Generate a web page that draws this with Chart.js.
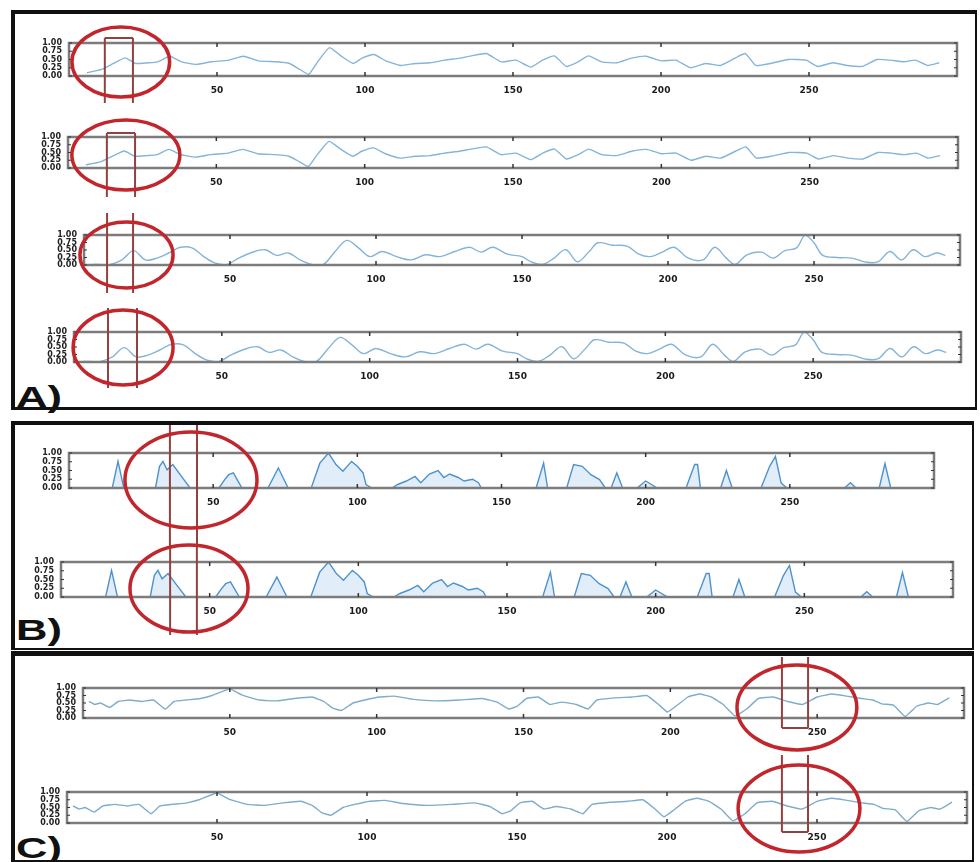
<!DOCTYPE html>
<html lang="en">
<head>
    <meta charset="UTF-8">
    <title>Signal panels A, B, C</title>
    <script src="https://cdn.jsdelivr.net/npm/chart.js"></script>
    <style>
        body {
            margin: 0;
            width: 980px;
            height: 862px;
            background: #ffffff;
            position: relative;
            overflow: hidden;
            font-family: "Liberation Sans", Arial, sans-serif;
        }
        canvas {
            position: absolute;
        }
        .panel {
            position: absolute;
            box-sizing: border-box;
            border-style: solid;
            border-color: #111;
        }
        .tag {
            position: absolute;
            left: 16px;
            font-size: 30px;
            line-height: 30px;
            font-weight: bold;
            color: #111;
            transform: scaleX(1.45);
            transform-origin: left top;
        }
    </style>
</head>
<body>

<!-- panel frames -->
<div class="panel" style="left:11px; top:10px; width:966px; height:400px; border-width:4px 2px 3px 4px;"></div>
<div class="panel" style="left:11px; top:421px; width:963px; height:229px; border-width:4px 2px 2px 4px;"></div>
<div class="panel" style="left:11px; top:651px; width:963px; height:211px; border-width:5px 2px 2px 4px;"></div>

<div class="tag" style="top:382px;">A)</div>
<div class="tag" style="top:615px;">B)</div>
<div class="tag" style="top:833px;">C)</div>

<script>
    // x tick labels shared by every strip
    const xTickLabels = [50, 100, 150, 200, 250];

    // panel A, upper pair (raw trace)
    const xA_top = [6, 11, 15, 19, 22.5, 26.5, 30, 34, 38, 43, 48, 54, 59, 64, 70, 74.5, 78, 81, 84, 88,
        92, 96, 99, 103, 107, 112, 117, 122, 127, 132, 136, 141, 146, 151, 156, 160, 164, 168, 172, 175.5,
        180, 185, 190, 195, 200, 205, 210, 215, 220, 225, 228.5, 232, 237, 243, 249, 253, 258, 263, 268, 273,
        277.5, 282, 286, 290, 294];
    const yA_top = [0.1, 0.2, 0.38, 0.55, 0.38, 0.4, 0.43, 0.6, 0.43, 0.35, 0.43, 0.48, 0.6, 0.46, 0.43, 0.38, 0.2, 0.05, 0.43, 0.86,
        0.6, 0.38, 0.54, 0.65, 0.46, 0.32, 0.38, 0.4, 0.48, 0.54, 0.61, 0.68, 0.43, 0.48, 0.27, 0.48, 0.61, 0.29, 0.43, 0.61,
        0.43, 0.4, 0.54, 0.6, 0.46, 0.48, 0.25, 0.38, 0.32, 0.54, 0.68, 0.32, 0.38, 0.5, 0.48, 0.29, 0.4, 0.32, 0.29, 0.5,
        0.48, 0.43, 0.48, 0.32, 0.4];

    // panel A, lower pair (smoothed trace)
    const xA_bot = [3, 9, 13, 17, 21, 25, 29, 33, 37, 41, 45, 49, 53, 57, 62, 66, 70, 74, 78, 82,
        86, 90, 94, 98, 102, 107, 112, 117, 122, 127, 132, 136, 140, 145, 150, 153, 157, 161, 165, 169,
        173, 176, 181, 186, 190, 194, 198, 202, 207, 212, 216, 220, 223, 227, 232, 236, 240, 244, 247, 250,
        253, 258, 263, 268, 272, 276, 280, 284, 288, 292, 295];
    const yA_bot = [0.02, 0.02, 0.17, 0.48, 0.17, 0.23, 0.4, 0.59, 0.57, 0.28, 0.06, 0.02, 0.23, 0.4, 0.51, 0.32, 0.4, 0.17, 0.02, 0.02,
        0.45, 0.82, 0.57, 0.28, 0.45, 0.28, 0.17, 0.34, 0.28, 0.45, 0.59, 0.43, 0.59, 0.36, 0.28, 0.11, 0.02, 0.23, 0.51, 0.11,
        0.45, 0.74, 0.66, 0.63, 0.36, 0.28, 0.43, 0.59, 0.23, 0.17, 0.59, 0.23, 0.02, 0.34, 0.43, 0.23, 0.48, 0.57, 1.0, 0.74,
        0.32, 0.25, 0.23, 0.09, 0.11, 0.45, 0.17, 0.51, 0.28, 0.4, 0.32];

    // panel B (spiky activity)
    const xB = [0, 15, 17, 19, 30, 31.4, 32.6, 34, 36, 39, 42, 52, 54, 55.4, 57, 59, 60, 69, 72.6, 76,
        84, 87, 90, 92.6, 95, 98, 100, 102, 103, 105, 112, 114, 117, 120, 122, 125, 128, 130, 132, 135,
        137, 140, 142, 143, 162, 164.6, 166, 172.6, 175, 178, 181, 184, 186, 188, 190, 192, 197, 200, 204, 214,
        217, 218, 219, 226, 228, 230, 240, 243, 245, 247, 249, 269, 271, 273, 281, 283, 285, 295];
    const yB = [0, 0, 0.76, 0, 0, 0.62, 0.76, 0.52, 0.67, 0.33, 0, 0, 0.24, 0.38, 0.43, 0.14, 0, 0, 0.57, 0,
        0, 0.71, 1.0, 0.67, 0.48, 0.76, 0.62, 0.43, 0.1, 0, 0, 0.1, 0.2, 0.33, 0.15, 0.4, 0.5, 0.3, 0.4, 0.3,
        0.2, 0.25, 0.15, 0, 0, 0.71, 0, 0, 0.67, 0.62, 0.38, 0.24, 0, 0, 0.43, 0, 0, 0.2, 0, 0,
        0.67, 0.67, 0, 0, 0.5, 0, 0, 0.62, 0.9, 0.14, 0, 0, 0.15, 0, 0, 0.7, 0, 0];

    // panel C
    const xC = [2, 4, 6, 9, 12, 16, 20, 24, 28, 31, 35, 40, 44, 50, 54, 60, 66, 72, 78, 82,
        85, 88, 92, 96, 101, 106, 112, 120, 128, 136, 141, 145, 148, 151, 155, 159, 163, 168, 172, 175,
        181, 187, 192, 196, 199, 202, 206, 210, 214, 218, 222, 226, 230, 235, 240, 245, 250, 255, 260, 265,
        269, 272, 276, 280, 284, 288, 291, 295];
    const yC = [0.55, 0.45, 0.5, 0.35, 0.55, 0.6, 0.55, 0.6, 0.3, 0.55, 0.6, 0.65, 0.75, 0.97, 0.77, 0.6, 0.57, 0.65, 0.7, 0.55,
        0.33, 0.25, 0.5, 0.6, 0.7, 0.73, 0.63, 0.57, 0.6, 0.65, 0.53, 0.3, 0.4, 0.65, 0.7, 0.45, 0.53, 0.45, 0.3, 0.6,
        0.67, 0.7, 0.75, 0.45, 0.2, 0.4, 0.7, 0.8, 0.7, 0.45, 0.07, 0.3, 0.65, 0.7, 0.55, 0.45, 0.7, 0.8, 0.73, 0.65,
        0.6, 0.47, 0.43, 0.05, 0.4, 0.5, 0.45, 0.67];

    const PT = 45, PR = 20, YW = 60, XH = 60;   // room round each plot box

    // box, inward ticks, red ring and window lines
    const overlay = {
        id: 'overlay',
        afterDraw(chart, args, o) {
            const { ctx, chartArea: a, scales: { x, y } } = chart;
            const seg = (x1, y1, x2, y2) => { ctx.beginPath(); ctx.moveTo(x1, y1); ctx.lineTo(x2, y2); ctx.stroke(); };
            ctx.save();
            ctx.strokeStyle = '#7c7c7c';
            ctx.lineWidth = 2.5;
            ctx.strokeRect(a.left, a.top, a.width, a.height);

            ctx.strokeStyle = '#333';
            ctx.lineWidth = 1.5;
            x.ticks.forEach(t => {
                if (!xTickLabels.includes(t.value)) return;
                const px = x.getPixelForValue(t.value);
                seg(px, a.top, px, a.top + 4);
                seg(px, a.bottom - 4, px, a.bottom);
            });
            ctx.lineWidth = 1;
            y.ticks.forEach(t => {
                const py = y.getPixelForValue(t.value);
                seg(a.left, py, a.left + 3, py);
                seg(a.right - 3, py, a.right, py);
            });

            if (o.win) {
                const [w1, w2, up, down, bar] = o.win;
                const p1 = x.getPixelForValue(w1), p2 = x.getPixelForValue(w2);
                const top = a.top - up, bot = a.bottom + down;
                ctx.strokeStyle = '#94403f';
                ctx.lineWidth = 2;
                seg(p1, top, p1, bot);
                seg(p2, top, p2, bot);
                if (bar === 'top') seg(p1, top, p2, top);
                if (bar === 'bottom') seg(p1, bot, p2, bot);
            }
            if (o.ring) {
                const [r1, r2, up, down] = o.ring;
                const p1 = x.getPixelForValue(r1), p2 = x.getPixelForValue(r2);
                const top = a.top - up, bot = a.bottom + down;
                ctx.strokeStyle = '#c1262c';
                ctx.lineWidth = 3.5;
                ctx.beginPath();
                ctx.ellipse((p1 + p2) / 2, (top + bot) / 2, (p2 - p1) / 2, (bot - top) / 2, 0, 0, Math.PI * 2);
                ctx.stroke();
            }
            ctx.restore();
        }
    };

    const looks = {
        A: { color: '#84b4d9', fill: false, tension: 0.15 },
        Asm: { color: '#84b4d9', fill: false, tension: 0.35 },
        B: { color: '#4d92cd', fill: true, tension: 0 },
        C: { color: '#7eaccd', fill: false, tension: 0.1 }
    };

    function makePlot(g, xs, ys, look, ann) {
        const canvas = document.createElement('canvas');
        canvas.width = g.R - g.L + YW + PR;
        canvas.height = g.B - g.T + PT + XH;
        canvas.style.left = (g.L - YW) + 'px';
        canvas.style.top = (g.T - PT) + 'px';
        document.body.appendChild(canvas);

        new Chart(canvas, {
            type: 'line',
            data: {
                datasets: [{
                    data: xs.map((v, i) => ({ x: v, y: ys[i] })),
                    borderColor: look.color,
                    borderWidth: 1.4,
                    backgroundColor: 'rgba(120, 175, 222, 0.22)',
                    fill: look.fill ? 'origin' : false,
                    tension: look.tension,
                    pointRadius: 0
                }]
            },
            options: {
                responsive: false,
                animation: false,
                events: [],
                layout: { padding: { top: PT, right: PR, left: 0, bottom: 0 } },
                plugins: {
                    legend: { display: false },
                    tooltip: { enabled: false },
                    overlay: ann
                },
                scales: {
                    x: {
                        type: 'linear',
                        min: 0,
                        max: 300,
                        grid: { display: false, drawTicks: false },
                        border: { display: false },
                        ticks: {
                            stepSize: 50,
                            autoSkip: false,
                            maxRotation: 0,
                            padding: 9,
                            color: '#1a1a1a',
                            font: { family: 'DejaVu Sans', size: 9, weight: 'bold' },
                            callback: v => xTickLabels.includes(v) ? String(v) : ''
                        },
                        afterFit: s => { s.height = XH; }
                    },
                    y: {
                        min: 0,
                        max: 1,
                        grid: { display: false, drawTicks: false },
                        border: { display: false },
                        ticks: {
                            stepSize: 0.25,
                            autoSkip: false,
                            padding: 7,
                            color: '#222',
                            font: { family: 'DejaVu Sans', size: 8, weight: 'bold' },
                            callback: v => v.toFixed(2)
                        },
                        afterFit: s => { s.width = YW; }
                    }
                }
            },
            plugins: [overlay]
        });
    }

    // panel A
    makePlot({ L: 69, T: 43, R: 957, B: 76 }, xA_top, yA_top, looks.A,
        { ring: [1, 34, 16, 21], win: [12.1, 21.6, 5, 27, 'top'] });
    makePlot({ L: 68, T: 137, R: 958, B: 168 }, xA_top, yA_top, looks.A,
        { ring: [1.3, 37.7, 17, 22], win: [13.1, 22.6, 4, 29, 'top'] });
    makePlot({ L: 84, T: 235, R: 960, B: 265 }, xA_bot, yA_bot, looks.Asm,
        { ring: [-1.4, 30.5, 13, 23], win: [7.9, 16.8, 22, 28, null] });
    makePlot({ L: 74, T: 332, R: 961, B: 362 }, xA_bot, yA_bot, looks.Asm,
        { ring: [-0.3, 33.5, 22, 23], win: [11.5, 21.3, 24, 26, null] });

    // panel B
    makePlot({ L: 69, T: 453, R: 934, B: 488 }, xB, yB, looks.B,
        { ring: [19.4, 65.2, 21, 40], win: [35, 44.4, 28, 57, null] });
    makePlot({ L: 61, T: 562, R: 953, B: 597 }, xB, yB, looks.B,
        { ring: [23.2, 62.9, 17, 35], win: [36.7, 45.7, 17, 38, null] });

    // panel C
    makePlot({ L: 83, T: 688, R: 964, B: 718 }, xC, yC, looks.C,
        { ring: [222.7, 263.5, 23, 32], win: [238, 246.9, 31, 10, 'bottom'] });
    makePlot({ L: 67, T: 792, R: 967, B: 823 }, xC, yC, looks.C,
        { ring: [223.7, 264.3, 27, 29], win: [238.3, 247, 37, 9, 'bottom'] });
</script>

</body>
</html>
